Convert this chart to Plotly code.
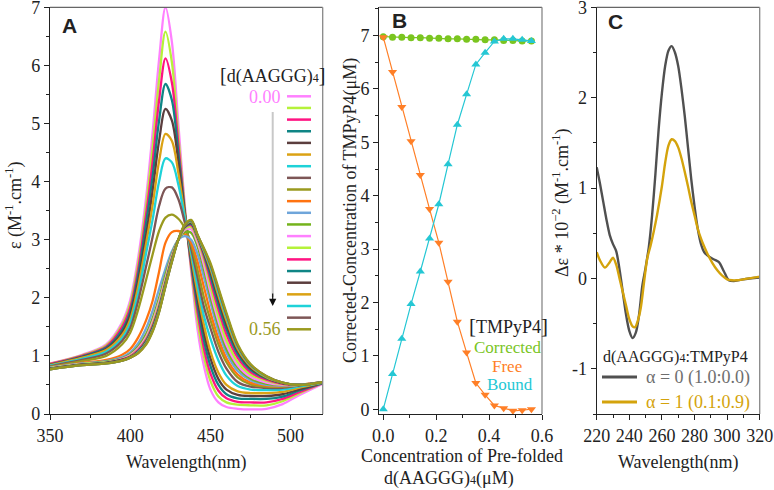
import plotly.graph_objects as go

# ---------------- data ----------------
# Panel A: absorption spectra of TMPyP4 while adding d(AAGGG)4
wavelength_a = [350, 370, 385, 395, 400, 405, 410, 414, 418, 422, 426, 430, 434,
                438, 442, 446, 450, 455, 460, 467, 475, 485, 495, 505, 520]
spectra_a = [
    [0.87, 1.02, 1.2, 1.58, 1.96, 2.7, 3.75, 4.85, 6.1, 7.0, 6.4, 5.0, 3.6, 2.45, 1.45, 0.82, 0.42, 0.2, 0.12, 0.09, 0.08, 0.09, 0.17, 0.32, 0.52],
    [0.865, 1.01, 1.18, 1.54, 1.9, 2.6, 3.6, 4.6, 5.75, 6.58, 6.05, 4.8, 3.55, 2.5, 1.6, 0.98, 0.57, 0.3, 0.2, 0.16, 0.15, 0.15, 0.22, 0.35, 0.53],
    [0.86, 1.0, 1.16, 1.5, 1.83, 2.5, 3.45, 4.35, 5.4, 6.12, 5.7, 4.65, 3.5, 2.55, 1.75, 1.12, 0.7, 0.4, 0.27, 0.21, 0.2, 0.2, 0.26, 0.37, 0.53],
    [0.85, 0.99, 1.14, 1.45, 1.76, 2.4, 3.3, 4.1, 5.05, 5.68, 5.4, 4.5, 3.48, 2.6, 1.86, 1.26, 0.83, 0.5, 0.34, 0.27, 0.26, 0.26, 0.3, 0.4, 0.53],
    [0.845, 0.98, 1.12, 1.4, 1.7, 2.3, 3.1, 3.85, 4.7, 5.25, 5.05, 4.35, 3.45, 2.66, 1.97, 1.4, 0.96, 0.6, 0.42, 0.33, 0.31, 0.31, 0.34, 0.42, 0.54],
    [0.84, 0.97, 1.1, 1.36, 1.63, 2.2, 2.95, 3.6, 4.35, 4.82, 4.7, 4.15, 3.42, 2.72, 2.08, 1.53, 1.08, 0.71, 0.5, 0.39, 0.36, 0.36, 0.38, 0.45, 0.54],
    [0.83, 0.95, 1.07, 1.31, 1.56, 2.08, 2.78, 3.35, 4.0, 4.4, 4.33, 3.95, 3.38, 2.78, 2.2, 1.68, 1.3, 0.92, 0.66, 0.48, 0.42, 0.41, 0.42, 0.47, 0.54],
    [0.82, 0.93, 1.04, 1.26, 1.48, 1.95, 2.55, 3.05, 3.58, 3.88, 3.9, 3.7, 3.3, 2.85, 2.35, 1.84, 1.48, 1.07, 0.78, 0.55, 0.47, 0.45, 0.45, 0.49, 0.55],
    [0.81, 0.91, 1.0, 1.2, 1.4, 1.8, 2.32, 2.75, 3.15, 3.38, 3.43, 3.36, 3.2, 2.92, 2.48, 2.0, 1.62, 1.2, 0.89, 0.63, 0.51, 0.47, 0.47, 0.5, 0.55],
    [0.8, 0.88, 0.93, 1.02, 1.12, 1.32, 1.62, 1.95, 2.45, 2.95, 3.13, 3.15, 3.1, 2.95, 2.62, 2.18, 1.75, 1.3, 0.96, 0.68, 0.54, 0.49, 0.48, 0.5, 0.55],
    [0.8, 0.87, 0.91, 0.98, 1.06, 1.22, 1.48, 1.78, 2.15, 2.5, 2.8, 3.0, 3.06, 3.0, 2.75, 2.35, 1.92, 1.42, 1.05, 0.74, 0.58, 0.5, 0.49, 0.5, 0.55],
    [0.79, 0.86, 0.9, 0.96, 1.03, 1.16, 1.38, 1.65, 2.0, 2.4, 2.75, 3.0, 3.13, 3.12, 2.88, 2.48, 2.02, 1.52, 1.12, 0.8, 0.61, 0.52, 0.5, 0.5, 0.55],
    [0.79, 0.86, 0.89, 0.95, 1.01, 1.13, 1.33, 1.59, 1.93, 2.33, 2.72, 3.0, 3.17, 3.18, 2.95, 2.56, 2.1, 1.6, 1.19, 0.84, 0.64, 0.54, 0.5, 0.5, 0.55],
    [0.79, 0.86, 0.89, 0.94, 1.0, 1.11, 1.3, 1.55, 1.89, 2.3, 2.7, 3.0, 3.19, 3.22, 3.0, 2.65, 2.2, 1.69, 1.27, 0.9, 0.68, 0.57, 0.51, 0.5, 0.55],
    [0.78, 0.85, 0.88, 0.94, 0.99, 1.1, 1.28, 1.52, 1.85, 2.27, 2.68, 3.0, 3.21, 3.25, 3.03, 2.71, 2.3, 1.8, 1.37, 0.97, 0.72, 0.59, 0.52, 0.5, 0.55],
    [0.78, 0.85, 0.88, 0.93, 0.98, 1.08, 1.26, 1.49, 1.82, 2.25, 2.66, 3.0, 3.22, 3.27, 3.05, 2.75, 2.38, 1.89, 1.46, 1.03, 0.76, 0.61, 0.53, 0.5, 0.55],
    [0.78, 0.85, 0.88, 0.93, 0.98, 1.07, 1.24, 1.47, 1.8, 2.23, 2.65, 3.0, 3.23, 3.29, 3.06, 2.78, 2.45, 1.97, 1.54, 1.08, 0.79, 0.62, 0.53, 0.5, 0.55],
    [0.77, 0.84, 0.87, 0.92, 0.97, 1.06, 1.23, 1.45, 1.78, 2.22, 2.64, 3.0, 3.24, 3.31, 3.07, 2.8, 2.5, 2.04, 1.61, 1.12, 0.82, 0.63, 0.54, 0.5, 0.55],
    [0.77, 0.84, 0.87, 0.92, 0.97, 1.06, 1.22, 1.44, 1.77, 2.21, 2.63, 3.0, 3.25, 3.32, 3.07, 2.82, 2.54, 2.1, 1.67, 1.16, 0.84, 0.64, 0.54, 0.5, 0.55],
    [0.77, 0.84, 0.87, 0.92, 0.97, 1.05, 1.21, 1.43, 1.76, 2.2, 2.62, 3.0, 3.25, 3.33, 3.08, 2.84, 2.57, 2.14, 1.71, 1.18, 0.85, 0.65, 0.54, 0.5, 0.55],
    [0.77, 0.84, 0.87, 0.92, 0.97, 1.05, 1.2, 1.42, 1.75, 2.2, 2.62, 3.0, 3.26, 3.34, 3.08, 2.85, 2.6, 2.17, 1.74, 1.2, 0.86, 0.65, 0.54, 0.5, 0.55],
]
palette_a = ['#FF80FF', '#B5F23A', '#FF1482', '#0F8585', '#5B3E3E', '#DBA214',
             '#1ED2D8', '#7D5656', '#9A9A1F', '#FF7310', '#6FA5DA', '#74B31C']

# Panel B: corrected / free / bound TMPyP4
conc_b = [0, 0.035, 0.07, 0.105, 0.14, 0.175, 0.21, 0.245, 0.28, 0.315,
          0.35, 0.385, 0.42, 0.455, 0.49, 0.525, 0.56]
corrected_b = [6.98, 6.97, 6.97, 6.96, 6.96, 6.95, 6.95, 6.94, 6.94, 6.93,
               6.93, 6.92, 6.92, 6.91, 6.91, 6.9, 6.9]
free_b = [6.97, 6.32, 5.66, 5.02, 4.39, 3.75, 3.12, 2.39, 1.64, 1.06,
          0.49, 0.27, 0.07, 0.02, -0.03, -0.02, 0.0]
bound_b = [0.0, 0.66, 1.32, 1.97, 2.58, 3.2, 3.84, 4.59, 5.33, 5.9,
           6.46, 6.68, 6.89, 6.94, 6.94, 6.92, 6.9]

# Panel C: CD spectra
wl_c0 = [220, 222, 224, 226, 228, 230, 232, 234, 236, 238, 240, 242, 244, 246, 248,
         250, 252, 254, 256, 258, 260, 262, 264, 266, 268, 270, 272, 274, 276, 278,
         280, 282, 284, 286, 289, 292, 295, 298, 301, 304, 310, 320]
cd_alpha0 = [1.23, 1.05, 0.85, 0.65, 0.48, 0.38, 0.3, 0.1, -0.15, -0.4, -0.58, -0.66, -0.6, -0.4, -0.08,
             0.12, 0.35, 0.7, 1.15, 1.65, 2.05, 2.35, 2.52, 2.57, 2.5, 2.35, 2.1, 1.8, 1.45, 1.1,
             0.8, 0.55, 0.38, 0.29, 0.24, 0.21, 0.18, 0.08, -0.02, -0.03, -0.01, 0.01]
wl_c1 = [220, 222, 225, 228, 230, 232, 234, 236, 238, 240, 242, 243.5, 245, 247, 249,
         251, 253, 255, 257, 260, 262, 264, 266, 268, 270, 272, 274, 276, 278, 280,
         282, 284, 286, 288, 291, 294, 297, 300, 303, 306, 310, 320]
cd_alpha1 = [0.29, 0.2, 0.12, 0.18, 0.23, 0.15, 0.0, -0.15, -0.3, -0.45, -0.53, -0.54, -0.48, -0.33, -0.05,
             0.22, 0.36, 0.52, 0.7, 1.02, 1.28, 1.47, 1.54, 1.52, 1.45, 1.33, 1.18, 1.02, 0.85, 0.7,
             0.55, 0.44, 0.35, 0.27, 0.17, 0.09, 0.03, -0.01, -0.02, -0.02, -0.01, 0.02]

SERIF = 'Liberation Serif, Times New Roman, serif'
INK = '#222222'
W, H = 774, 490


def px(x):
    return x / W


def py(y):
    return 1 - y / H


def axis(domain, rng, dtick, minor, anchor, **kw):
    d = dict(domain=domain, range=rng, anchor=anchor, dtick=dtick, automargin=False,
             ticklabeloverflow='allow',
             showline=True, linecolor=INK, linewidth=1.3, showgrid=False, zeroline=False,
             ticks='outside', ticklen=5, tickwidth=1.2, tickcolor=INK,
             tickfont=dict(family=SERIF, size=18, color=INK),
             minor=dict(dtick=minor, ticks='outside', ticklen=3, tickwidth=1.1, tickcolor=INK, showgrid=False))
    d.update(kw)
    return d


fig = go.Figure()

# A spectra
for i, vals in enumerate(spectra_a):
    fig.add_trace(go.Scatter(x=wavelength_a, y=vals, mode='lines', xaxis='x', yaxis='y',
                             line=dict(color=palette_a[i % 12], width=2.3, shape='spline', smoothing=0.9),
                             showlegend=False, hoverinfo='skip'))

# B
fig.add_trace(go.Scatter(x=conc_b, y=corrected_b, mode='lines+markers', xaxis='x2', yaxis='y2',
                         line=dict(color='#7AC51F', width=1.2),
                         marker=dict(symbol='circle', size=7, color='#7AC51F'), showlegend=False))
fig.add_trace(go.Scatter(x=conc_b, y=free_b, mode='lines+markers', xaxis='x2', yaxis='y2',
                         line=dict(color='#FF7F27', width=1.2),
                         marker=dict(symbol='triangle-down', size=8, color='#FF7F27'), showlegend=False))
fig.add_trace(go.Scatter(x=conc_b, y=bound_b, mode='lines+markers', xaxis='x2', yaxis='y2',
                         line=dict(color='#25C7D4', width=1.2),
                         marker=dict(symbol='triangle-up', size=8, color='#25C7D4'), showlegend=False))

# C
fig.add_trace(go.Scatter(x=wl_c0, y=cd_alpha0, mode='lines', xaxis='x3', yaxis='y3',
                         line=dict(color='#505050', width=2.4, shape='spline', smoothing=0.8), showlegend=False))
fig.add_trace(go.Scatter(x=wl_c1, y=cd_alpha1, mode='lines', xaxis='x3', yaxis='y3',
                         line=dict(color='#D4A30C', width=2.4, shape='spline', smoothing=0.8), showlegend=False))

ydom = [py(414), py(7.3)]
dom_a = [px(50), px(322.7)]
dom_b = [px(379.3), px(542)]
dom_c = [px(596.7), px(759.7)]

fig.update_layout(
    template='none',
    width=W, height=H, autosize=False,
    margin=dict(l=0, r=0, t=0, b=0, pad=0),
    paper_bgcolor='white', plot_bgcolor='white',
    font=dict(family=SERIF, size=18, color=INK),
    xaxis=axis(dom_a, [350, 520], 50, 25, 'y', tick0=350),
    yaxis=axis(ydom, [0, 7], 1, 0.5, 'x', tick0=0),
    xaxis2=axis(dom_b, [-0.015, 0.6], 0.2, 0.1, 'y2', tick0=0, tickformat='.1f'),
    yaxis2=axis(ydom, [-0.09, 7.53], 1, 0.5, 'x2', tick0=0),
    xaxis3=axis(dom_c, [220, 320], 20, 10, 'y3', tick0=220),
    yaxis3=axis(ydom, [-1.5, 3], 1, 0.5, 'x3', tickvals=[-1, 0, 1, 2, 3],
                ticktext=['-1', '0', '1', '2', '3']),
)

shapes = []
# gray top/right frame lines
for dom in (dom_a, dom_b, dom_c):
    shapes.append(dict(type='line', xref='paper', yref='paper', x0=dom[0], x1=dom[1],
                       y0=ydom[1], y1=ydom[1], line=dict(color='#666666', width=1.3)))
    shapes.append(dict(type='line', xref='paper', yref='paper', x0=dom[1], x1=dom[1],
                       y0=ydom[0], y1=ydom[1], line=dict(color='#888888', width=1.3)))

# A legend keys
for i in range(21):
    yk = 96.3 + i * 11.65
    shapes.append(dict(type='line', xref='paper', yref='paper', x0=px(287), x1=px(311),
                       y0=py(yk), y1=py(yk), line=dict(color=palette_a[i % 12], width=2.5)))
shapes.append(dict(type='line', xref='paper', yref='paper', x0=px(272.7), x1=px(272.7),
                   y0=py(112), y1=py(297), line=dict(color='#C8C8C8', width=2)))

# C legend keys
shapes.append(dict(type='line', xref='paper', yref='paper', x0=px(602), x1=px(637),
                   y0=py(377), y1=py(377), line=dict(color='#505050', width=3)))
shapes.append(dict(type='line', xref='paper', yref='paper', x0=px(602), x1=px(637),
                   y0=py(402), y1=py(402), line=dict(color='#D4A30C', width=3)))
fig.update_layout(shapes=shapes)

sub4 = "<span style='font-size:12px'>4</span>"


def note(text, x, y, size=18, color=INK, xanchor='center', angle=0, family=SERIF):
    fig.add_annotation(text=text, x=px(x), y=py(y), xref='paper', yref='paper',
                       xanchor=xanchor, yanchor='middle', showarrow=False, textangle=angle,
                       font=dict(family=family, size=size, color=color))


# panel letters
note('<b>A</b>', 60, 26, size=21, xanchor='left', family='Liberation Sans, Arial, sans-serif')
note('<b>B</b>', 390, 21, size=21, xanchor='left', family='Liberation Sans, Arial, sans-serif')
note('<b>C</b>', 606, 22, size=21, xanchor='left', family='Liberation Sans, Arial, sans-serif')

# axis titles
note('ε (M<sup>-1</sup>.cm<sup>-1</sup>)', 14, 205, angle=-90)
note('Wavelength(nm)', 186, 462)
note('Corrected-Concentration of TMPyP4(μM)', 350, 211, angle=-90)
note('Concentration of Pre-folded', 462, 456)
note('d(AAGGG)' + sub4 + '(μM)', 449, 478)
note('Δε * 10<sup>−2</sup> (M<sup>-1</sup>.cm<sup>-1</sup>)', 561, 203, angle=-90)
note('Wavelength(nm)', 678, 462)

# A legend text
note("<span style='font-size:20px'>[</span>d(AAGGG)" + sub4 + "<span style='font-size:20px'>]</span>",
     272, 75)
note('0.00', 283, 97, color='#FF80FF', xanchor='right')
note('0.56', 283, 329, color='#9A9A1F', xanchor='right')
fig.add_annotation(x=px(272.7), y=py(306), xref='paper', yref='paper', ax=0, ay=-14,
                   showarrow=True, arrowhead=2, arrowsize=1.2, arrowwidth=1.2, arrowcolor='#111111',
                   text='')

# B legend text
note("<span style='font-size:21px'>[</span>TMPyP4<span style='font-size:21px'>]</span>", 508, 326)
note('Corrected', 508, 347, size=17, color='#7AC51F')
note('Free', 507, 366, size=17, color='#FF7F27')
note('Bound', 510, 384, size=17, color='#25C7D4')

# C legend text
note('d(AAGGG)' + sub4 + ':TMPyP4', 601, 357, size=16, xanchor='left')
note('α = 0 (1.0:0.0)', 644, 377, color='#6E6E6E', xanchor='left')
note('α = 1 (0.1:0.9)', 644, 402, color='#D4A30C', xanchor='left')

# the page body has a default 8px margin; drop it so the figure sits at the window origin
fig.write_html("out.html", config={'displayModeBar': False},
               post_script="document.body.style.margin='0';")
